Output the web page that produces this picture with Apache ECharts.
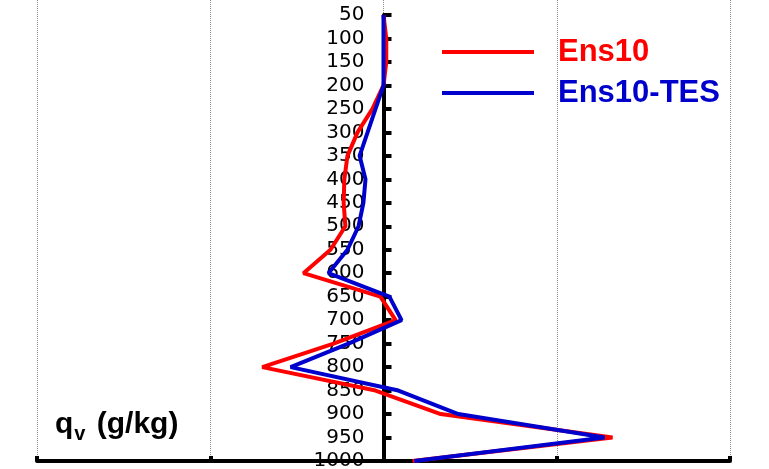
<!DOCTYPE html>
<html>
<head>
<meta charset="utf-8">
<script src="https://cdn.jsdelivr.net/npm/echarts@6/dist/echarts.min.js"></script>
<style>html,body{margin:0;padding:0;background:#fff}#c{width:769px;height:469px}</style>
</head>
<body>
<div id="c"></div>
<script>
// Pressure levels (hPa)
var levels = [50,100,150,200,250,300,350,400,450,500,550,600,650,700,750,800,850,900,950,1000];
// qv (g/kg)
var ens10    = [0,0.008,0.008,0,-0.032,-0.075,-0.104,-0.113,-0.115,-0.11,-0.153,-0.231,-0.009,0.035,-0.144,-0.35,-0.023,0.165,0.661,0.084];
var ens10tes = [0,0,0,0,-0.023,-0.046,-0.069,-0.052,-0.058,-0.072,-0.104,-0.159,0.017,0.052,-0.101,-0.268,0.043,0.216,0.638,0.089];
var seriesNames = ['Ens10','Ens10-TES'];
var xMin = -1, xMax = 1, xStep = 0.5;

function pairs(vals){ return vals.map(function(v,i){ return [v, levels[i]]; }); }

var W = 769, gridL = 37, gridR = 39;
// put the pressure axis where x = 0 sits
var yOffset = -((W - gridL - gridR) * (0 - xMin) / (xMax - xMin));

var chart = echarts.init(document.getElementById('c'), null, {renderer:'canvas'});
chart.setOption({
  animation:false,
  backgroundColor:'#fff',
  title:{
    text:'{q|q}{v|v}{t| (g/kg)}',
    left:55, top:406, padding:0,
    textStyle:{
      rich:{
        q:{fontFamily:'Liberation Sans',fontWeight:'bold',fontSize:30,color:'#000',lineHeight:34,verticalAlign:'bottom'},
        v:{fontFamily:'Liberation Sans',fontWeight:'bold',fontSize:20,color:'#000',lineHeight:34,verticalAlign:'bottom',padding:[0,3,-4,1]},
        t:{fontFamily:'Liberation Sans',fontWeight:'bold',fontSize:30,color:'#000',lineHeight:34,verticalAlign:'bottom'}
      }
    }
  },
  legend:[
    {data:[seriesNames[0]], left:442, top:36, padding:0, orient:'vertical', icon:'rect', itemWidth:92, itemHeight:4,
     textStyle:{color:'#ff0000',fontFamily:'Liberation Sans',fontWeight:'bold',fontSize:31,lineHeight:32,padding:[0,0,0,19]}},
    {data:[seriesNames[1]], left:442, top:77, padding:0, orient:'vertical', icon:'rect', itemWidth:92, itemHeight:4,
     textStyle:{color:'#0000cc',fontFamily:'Liberation Sans',fontWeight:'bold',fontSize:31,lineHeight:32,padding:[0,0,0,19]}}
  ],
  grid:[
    {left:gridL, right:gridR, top:15, bottom:8, containLabel:false, outerBoundsMode:'none'},
    {left:gridL, right:gridR, top:0, bottom:8, containLabel:false, outerBoundsMode:'none'}
  ],
  xAxis:[
    {type:'value', gridIndex:0, min:xMin, max:xMax, interval:xStep, position:'bottom',
     axisLine:{show:true,onZero:false,lineStyle:{color:'#000',width:4}},
     axisTick:{show:true,inside:true,length:5,lineStyle:{color:'#000',width:4}},
     axisLabel:{show:false}, splitLine:{show:false}},
    {type:'value', gridIndex:1, min:xMin, max:xMax, interval:xStep,
     axisLine:{show:false}, axisTick:{show:false}, axisLabel:{show:false},
     splitLine:{show:true,lineStyle:{type:'dotted',color:'#8c8c8c',width:1}}}
  ],
  yAxis:[
    {type:'value', gridIndex:0, inverse:true, min:50, max:1000, interval:50, position:'left', offset:yOffset,
     axisLine:{show:true,onZero:false,lineStyle:{color:'#000',width:4}},
     axisTick:{show:true,inside:true,length:8,lineStyle:{color:'#000',width:4}},
     axisLabel:{show:true,color:'#000',fontFamily:'DejaVu Sans',fontSize:20,margin:19,
       formatter:function(v){ return String(v); }},
     splitLine:{show:false}},
    {type:'value', gridIndex:1, inverse:true, min:0, max:1000, show:false, splitLine:{show:false}}
  ],
  series:[
    {name:seriesNames[0], type:'line', xAxisIndex:0, yAxisIndex:0, data:pairs(ens10),
     showSymbol:false, symbol:'none', color:'#ff0000', lineStyle:{color:'#ff0000',width:4}, z:3},
    {name:seriesNames[1], type:'line', xAxisIndex:0, yAxisIndex:0, data:pairs(ens10tes),
     showSymbol:false, symbol:'none', color:'#0000cc', lineStyle:{color:'#0000cc',width:4}, z:4}
  ]
});
</script>
</body>
</html>
